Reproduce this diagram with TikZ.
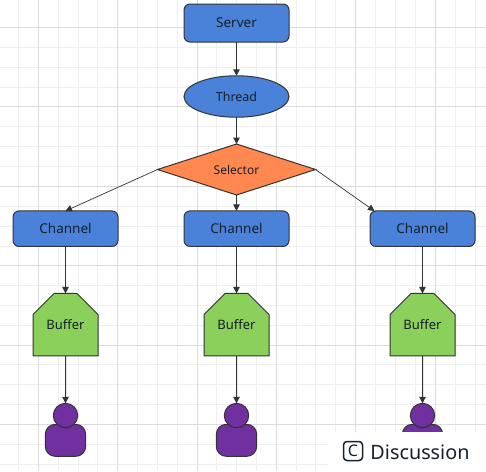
\documentclass[tikz,border=0pt]{standalone}
\usepackage{fontspec}
\setmainfont{Noto Sans}
\usetikzlibrary{shapes.geometric,shapes.misc,arrows.meta}
\definecolor{gridmin}{HTML}{EFEFEF}
\definecolor{gridmaj}{HTML}{DCDCDC}
\definecolor{edgec}{HTML}{333333}
\definecolor{bluef}{HTML}{4A82D9}
\definecolor{greenf}{HTML}{8AD05A}
\definecolor{orangef}{HTML}{FF8850}
\definecolor{purplef}{HTML}{7030A0}
\definecolor{txt}{HTML}{17202C}
\tikzset{
  x=1pt,y=-1pt,
  basebox/.style={draw=edgec,line width=1pt,inner sep=0pt,outer sep=0pt,text=txt,font=\fontsize{13.5}{15}\selectfont},
  roundbox/.style={basebox,rectangle,rounded corners=6pt,fill=bluef,minimum width=105pt},
  ovalbox/.style={basebox,ellipse,fill=bluef,minimum width=105pt,minimum height=41.5pt,font=\fontsize{12.5}{15}\selectfont},
  choice/.style={basebox,diamond,fill=orangef,aspect=3.1,minimum width=158pt,minimum height=51pt,font=\fontsize{12}{15}\selectfont},
  bufferbox/.style={basebox,chamfered rectangle,chamfered rectangle corners={north west,north east},chamfered rectangle xsep=15pt,chamfered rectangle ysep=16pt,fill=greenf,minimum width=65pt,minimum height=62.5pt,font=\fontsize{13}{15}\selectfont},
  head/.style={draw=edgec,line width=1pt,circle,fill=purplef,minimum size=24.4pt,inner sep=0pt,outer sep=0pt},
  torso/.style={draw=edgec,line width=1pt,rectangle,rounded corners=10pt,fill=purplef,minimum width=40.4pt,minimum height=32pt,inner sep=0pt,outer sep=0pt},
  link/.style={draw=edgec,line width=1pt,-{Triangle[length=6.5pt,width=6.5pt]}},
  thinlink/.style={draw=edgec,line width=0.7pt,-{Triangle[length=6.5pt,width=6.5pt]}},
  minorline/.style={gridmin,line width=1pt},
  majorline/.style={gridmaj,line width=1pt},
}
\begin{document}
\begin{tikzpicture}
\useasboundingbox (0,0) rectangle (486,471);
\fill[white] (0,0) rectangle (486,471);
% grid
\foreach \p in {18,58,78,97,137,157,177,216,236,256,296,315,335,375,395,415,455,475}
  \draw[minorline] (\p+0.5,0) -- ++(0,471);
\foreach \p in {47,67,87,126,146,166,206,226,246,285,305,325,364,384,404,444,464}
  \draw[minorline] (0,\p+0.5) -- ++(486,0);
\foreach \p in {38,117,197,276,355,435}
  \draw[majorline] (\p+0.5,0) -- ++(0,471);
\foreach \p in {27,106,186,265,345,424}
  \draw[majorline] (0,\p+0.5) -- ++(486,0);
% nodes
\node[roundbox,minimum height=38pt] (server) at (236.5,23) {Server};
\node[ovalbox] (thread) at (236.5,96.5) {Thread};
\node[choice] (selector) at (236.5,169.5) {Selector};
\node[roundbox,minimum height=35.5pt] (ch1) at (65.5,228.7) {Channel};
\node[roundbox,minimum height=35.5pt] (ch2) at (236.5,228.7) {Channel};
\node[roundbox,minimum height=35.5pt] (ch3) at (422.5,228.7) {Channel};
\coordinate (ch3in) at (374.5,211);
\node[bufferbox] (bu1) at (65.5,324.7) {Buffer};
\node[bufferbox] (bu2) at (236.5,324.7) {Buffer};
\node[bufferbox] (bu3) at (422.5,324.7) {Buffer};
\node[torso] (to1) at (65.5,440.3) {};
\node[head] (he1) at (65.5,415.5) {};
\node[torso] (to2) at (236.5,440.3) {};
\node[head] (he2) at (236.5,415.5) {};
\node[torso] (to3) at (422.5,440.3) {};
\node[head] (he3) at (422.5,415.5) {};
% white watermark panel
\fill[white] (328,431.5) rectangle (486,471);
\node[font=\fontsize{19.8}{22}\selectfont,text=txt,inner sep=0pt] (disc) at (420,452) {Discussion};
\node[draw=txt,line width=1.5pt,rounded corners=3.5pt,minimum size=19pt,inner sep=0pt,text=txt,font=\fontsize{16}{17}\selectfont] (cicon) at (353,451) {C};
% connectors
\draw[link] (server) -- (thread);
\draw[link] (thread) -- (selector);
\draw[link] (selector) -- (ch2);
\draw[thinlink] (selector.west) -- (ch1.north);
\draw[thinlink] (selector.east) -- (ch3in);
\foreach \k in {1,2,3}{
  \draw[link] (ch\k) -- (bu\k);
  \draw[link] (bu\k) -- (he\k);
}
\end{tikzpicture}
\end{document}
